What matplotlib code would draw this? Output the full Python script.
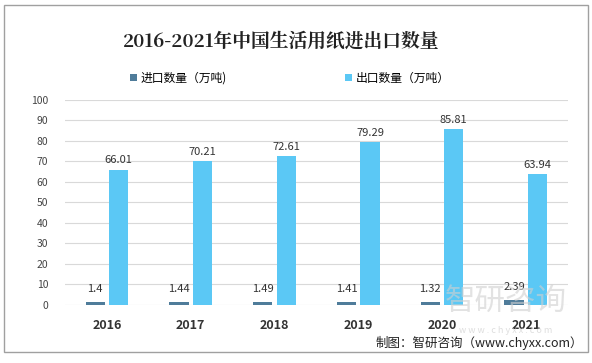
import matplotlib.pyplot as plt
import numpy as np
from matplotlib.patches import Rectangle

plt.rcParams['font.family'] = ['Noto Sans CJK SC', 'DejaVu Sans']

# datos
years = ['2016', '2017', '2018', '2019', '2020', '2021']
imports = [1.4, 1.44, 1.49, 1.41, 1.32, 2.39]
exports = [66.01, 70.21, 72.61, 79.29, 85.81, 63.94]

fig = plt.figure(figsize=(5.92, 3.63), dpi=100)
ax = fig.add_axes([0.110, 0.160, 0.849, 0.565])

x = np.arange(len(years))
w = 0.23
b1 = ax.bar(x - 0.14, imports, w, color='#4f7c9a', label='进口数量（万吨)')
b2 = ax.bar(x + 0.14, exports, w, color='#5bc8f5', label='出口数量（万吨）')

for r, v in zip(b1, imports):
    ax.text(r.get_x() + r.get_width() / 2, v + 4, f'{v:g}', ha='center', va='bottom',
            fontsize=8, color='#333333', zorder=5)
for r, v in zip(b2, exports):
    ax.text(r.get_x() + r.get_width() / 2, v + 2, f'{v:g}', ha='center', va='bottom',
            fontsize=8, color='#333333')

ax.set_ylim(0, 100)
ax.set_xlim(-0.5, len(years) - 0.5)
ax.set_yticks(range(0, 101, 10))
ax.set_xticks(x)
ax.set_xticklabels(years, fontsize=9, fontweight='bold', color='#333333')
ax.tick_params(axis='y', labelsize=7.5, colors='#444444', length=0, pad=12)
ax.tick_params(axis='x', length=0, pad=10)
ax.yaxis.grid(True, color='#d9d9d9', linewidth=0.8)
ax.set_axisbelow(True)
for s in ax.spines.values():
    s.set_visible(False)

# titulo y leyenda
fig.text(0.475, 0.885, '2016-2021年中国生活用纸进出口数量', ha='center', va='center',
         fontsize=13.5, fontweight='bold', color='#222222',
         family=['Noto Serif CJK SC', 'Noto Sans CJK SC', 'DejaVu Sans'])
h, l = ax.get_legend_handles_labels()
fig.legend(h, l, loc='center', bbox_to_anchor=(0.49, 0.785), ncol=2, frameon=False,
           fontsize=8.5, handlelength=0.6, handleheight=0.6, columnspacing=10, handletextpad=0.3)

# marca de agua
fig.text(0.855, 0.17, '智研咨询', ha='center', va='center', fontsize=22, color='#d0d0d0', alpha=0.6)
fig.text(0.855, 0.09, 'w w w . c h y x x . c o m', ha='center', va='center', fontsize=6.5,
         color='#d0d0d0', alpha=0.7)
fig.text(0.985, 0.055, '制图：智研咨询（www.chyxx.com）', ha='right', va='center',
         fontsize=9, color='#222222')

fig.add_artist(Rectangle((0.006, 0.03), 0.987, 0.955, transform=fig.transFigure,
                         fill=False, edgecolor='#a0a0a0', linewidth=1))

fig.savefig('out.png', dpi=100)
